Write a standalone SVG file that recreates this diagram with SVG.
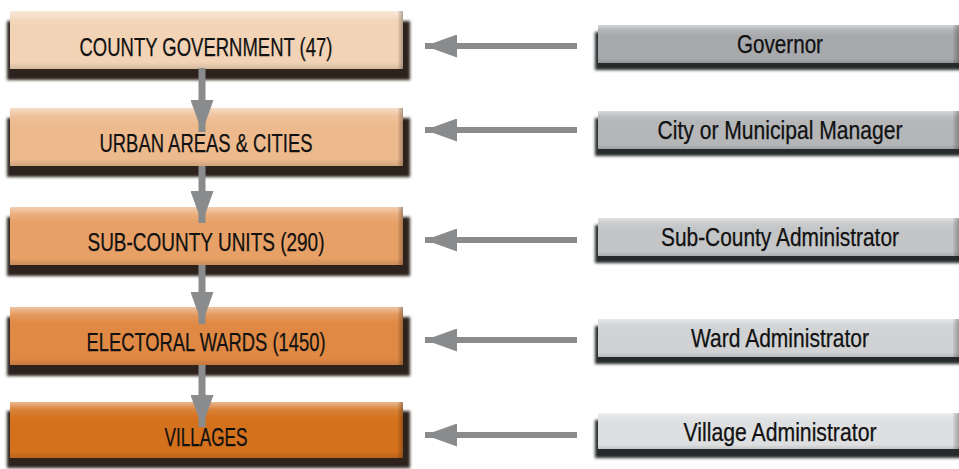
<svg xmlns="http://www.w3.org/2000/svg" width="959" height="469" viewBox="0 0 959 469">
  <defs>
    <filter id="soft" x="-5%" y="-30%" width="110%" height="160%">
      <feGaussianBlur stdDeviation="1.6"/>
    </filter>
    <!-- glossy top edge and darker lower edge on each face -->
    <linearGradient id="gloss" x1="0" y1="0" x2="0" y2="1">
      <stop offset="0" stop-color="#fff" stop-opacity="0.5"/>
      <stop offset="0.14" stop-color="#fff" stop-opacity="0.12"/>
      <stop offset="0.3" stop-color="#fff" stop-opacity="0"/>
      <stop offset="0.88" stop-color="#000" stop-opacity="0"/>
      <stop offset="1" stop-color="#000" stop-opacity="0.12"/>
    </linearGradient>
    <linearGradient id="bevel" x1="0" y1="0" x2="1" y2="0">
      <stop offset="0" stop-color="#000" stop-opacity="0.05"/>
      <stop offset="1" stop-color="#000" stop-opacity="0.28"/>
    </linearGradient>
    <marker id="head" viewBox="0 0 32 23" refX="32" refY="11.5" markerWidth="32" markerHeight="23" markerUnits="userSpaceOnUse" orient="auto">
      <path d="M0,0 L32,11.5 L0,23 Z" fill="#8a8b8d"/>
    </marker>
  </defs>
  <style>
    .lbl { font-family: "Liberation Sans Narrow", "Liberation Sans", Arial, sans-serif; font-size: 25px; fill: #111; stroke: #111; stroke-width: 0.25; text-anchor: middle; }
    .shL { fill: #2f241b; filter: url(#soft); }
    .shR { fill: #282a2b; filter: url(#soft); }
    .gloss { fill: url(#gloss); }
    .bevel { fill: url(#bevel); }
    .conn { stroke: #8a8b8d; fill: none; marker-end: url(#head); }
  </style>

  <rect width="959" height="469" fill="#fff"/>

  <!-- left column: levels of government -->
  <g id="county-government">
    <rect class="shL" x="7" y="21" width="403" height="59"/>
    <rect x="10" y="11" width="393" height="58" fill="#f2d3b5"/>
    <rect class="gloss" x="10" y="11" width="393" height="58"/>
    <rect class="bevel" x="398" y="11" width="5" height="58"/>
    <text class="lbl" x="206" y="56" textLength="253" lengthAdjust="spacingAndGlyphs">COUNTY GOVERNMENT (47)</text>
  </g>
  <g id="urban-areas">
    <rect class="shL" x="7" y="118" width="403" height="59"/>
    <rect x="10" y="108" width="393" height="58" fill="#edba8e"/>
    <rect class="gloss" x="10" y="108" width="393" height="58"/>
    <rect class="bevel" x="398" y="108" width="5" height="58"/>
    <text class="lbl" x="206" y="152" textLength="213" lengthAdjust="spacingAndGlyphs">URBAN AREAS &amp; CITIES</text>
  </g>
  <g id="sub-county-units">
    <rect class="shL" x="7" y="217" width="403" height="59"/>
    <rect x="10" y="207" width="393" height="58" fill="#e7a066"/>
    <rect class="gloss" x="10" y="207" width="393" height="58"/>
    <rect class="bevel" x="398" y="207" width="5" height="58"/>
    <text class="lbl" x="206" y="251" textLength="237" lengthAdjust="spacingAndGlyphs">SUB-COUNTY UNITS (290)</text>
  </g>
  <g id="electoral-wards">
    <rect class="shL" x="7" y="317" width="403" height="59"/>
    <rect x="10" y="307" width="393" height="58" fill="#e08944"/>
    <rect class="gloss" x="10" y="307" width="393" height="58"/>
    <rect class="bevel" x="398" y="307" width="5" height="58"/>
    <text class="lbl" x="206" y="351" textLength="239" lengthAdjust="spacingAndGlyphs">ELECTORAL WARDS (1450)</text>
  </g>
  <g id="villages">
    <rect class="shL" x="7" y="411" width="403" height="57"/>
    <rect x="10" y="402" width="393" height="56" fill="#d4711d"/>
    <rect class="gloss" x="10" y="402" width="393" height="56"/>
    <rect class="bevel" x="398" y="402" width="5" height="56"/>
    <text class="lbl" x="206" y="446" textLength="83" lengthAdjust="spacingAndGlyphs">VILLAGES</text>
  </g>

  <!-- right column: administrators -->
  <g id="governor">
    <rect class="shR" x="595" y="32" width="370" height="38"/>
    <rect x="598" y="25" width="361" height="38" fill="#a7a9ac"/>
    <rect class="gloss" x="598" y="25" width="361" height="38"/>
    <rect class="bevel" x="953" y="25" width="6" height="38"/>
    <text class="lbl" x="780" y="53" textLength="86" lengthAdjust="spacingAndGlyphs">Governor</text>
  </g>
  <g id="city-manager">
    <rect class="shR" x="595" y="118" width="370" height="38"/>
    <rect x="598" y="111" width="361" height="38" fill="#b4b6b8"/>
    <rect class="gloss" x="598" y="111" width="361" height="38"/>
    <rect class="bevel" x="953" y="111" width="6" height="38"/>
    <text class="lbl" x="780" y="139" textLength="245" lengthAdjust="spacingAndGlyphs">City or Municipal Manager</text>
  </g>
  <g id="sub-county-administrator">
    <rect class="shR" x="595" y="225" width="370" height="38"/>
    <rect x="598" y="218" width="361" height="38" fill="#c3c5c7"/>
    <rect class="gloss" x="598" y="218" width="361" height="38"/>
    <rect class="bevel" x="953" y="218" width="6" height="38"/>
    <text class="lbl" x="780" y="246" textLength="238" lengthAdjust="spacingAndGlyphs">Sub-County Administrator</text>
  </g>
  <g id="ward-administrator">
    <rect class="shR" x="595" y="326" width="370" height="38"/>
    <rect x="598" y="319" width="361" height="38" fill="#d0d2d4"/>
    <rect class="gloss" x="598" y="319" width="361" height="38"/>
    <rect class="bevel" x="953" y="319" width="6" height="38"/>
    <text class="lbl" x="780" y="347" textLength="178" lengthAdjust="spacingAndGlyphs">Ward Administrator</text>
  </g>
  <g id="village-administrator">
    <rect class="shR" x="595" y="420" width="370" height="38"/>
    <rect x="598" y="413" width="361" height="36" fill="#dedfe1"/>
    <rect class="gloss" x="598" y="413" width="361" height="36"/>
    <rect class="bevel" x="953" y="413" width="6" height="36"/>
    <text class="lbl" x="780" y="441" textLength="193" lengthAdjust="spacingAndGlyphs">Village Administrator</text>
  </g>

  <!-- connectors -->
  <g id="connectors">
    <path class="conn" stroke-width="7" d="M202,68 V132"/>
    <path class="conn" stroke-width="7" d="M202,166 V223"/>
    <path class="conn" stroke-width="7" d="M202,265 V324"/>
    <path class="conn" stroke-width="7" d="M202,365 V427"/>
    <path class="conn" stroke-width="6" d="M577,46 H425"/>
    <path class="conn" stroke-width="6" d="M577,130 H425"/>
    <path class="conn" stroke-width="6" d="M577,240 H425"/>
    <path class="conn" stroke-width="6" d="M577,340 H425"/>
    <path class="conn" stroke-width="6" d="M577,435 H425"/>
  </g>
</svg>
